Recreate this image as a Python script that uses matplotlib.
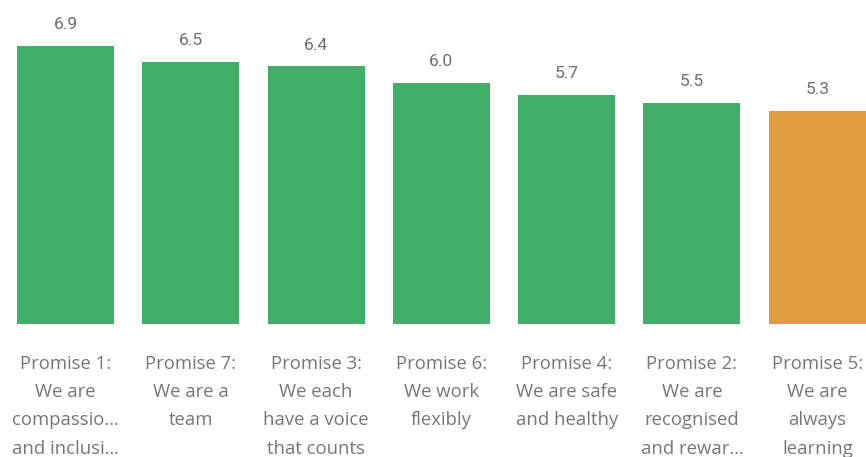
import matplotlib
matplotlib.use("Agg")
import matplotlib.pyplot as plt

categories = [
    "Promise 1:\nWe are\ncompassio…\nand inclusi…",
    "Promise 7:\nWe are a\nteam",
    "Promise 3:\nWe each\nhave a voice\nthat counts",
    "Promise 6:\nWe work\nflexibly",
    "Promise 4:\nWe are safe\nand healthy",
    "Promise 2:\nWe are\nrecognised\nand rewar…",
    "Promise 5:\nWe are\nalways\nlearning",
]
scores = [6.9, 6.5, 6.4, 6.0, 5.7, 5.5, 5.3]
highlight = [False, False, False, False, False, False, True]

GREEN = "#41AF6A"
ORANGE = "#E09C3F"
TEXT = "#777777"
VALUE_TEXT = "#6E6E6E"

fig = plt.figure(figsize=(8.66, 4.57), dpi=100)
ax = fig.add_axes([0, 0.291, 1, 0.709])

x = list(range(len(scores)))
colors = [ORANGE if h else GREEN for h in highlight]
ax.bar(x, scores, width=0.774, color=colors, edgecolor="none")

for xi, v in zip(x, scores):
    ax.annotate(f"{v:.1f}", (xi, v), xytext=(0, 10), textcoords="offset points",
                ha="center", va="bottom", fontsize=12.5, color=VALUE_TEXT,
                family="Roboto")

ax.set_xlim(-0.523, 6.389)
ax.set_ylim(0, 8.05)
ax.set_xticks(x)
ax.set_xticklabels(categories, fontsize=13.3, color=TEXT, family="Open Sans",
                   linespacing=1.72, va="top")
ax.tick_params(axis="x", length=0, pad=22.5)
ax.set_yticks([])
for s in ax.spines.values():
    s.set_visible(False)

fig.savefig("out.png", dpi=100)
